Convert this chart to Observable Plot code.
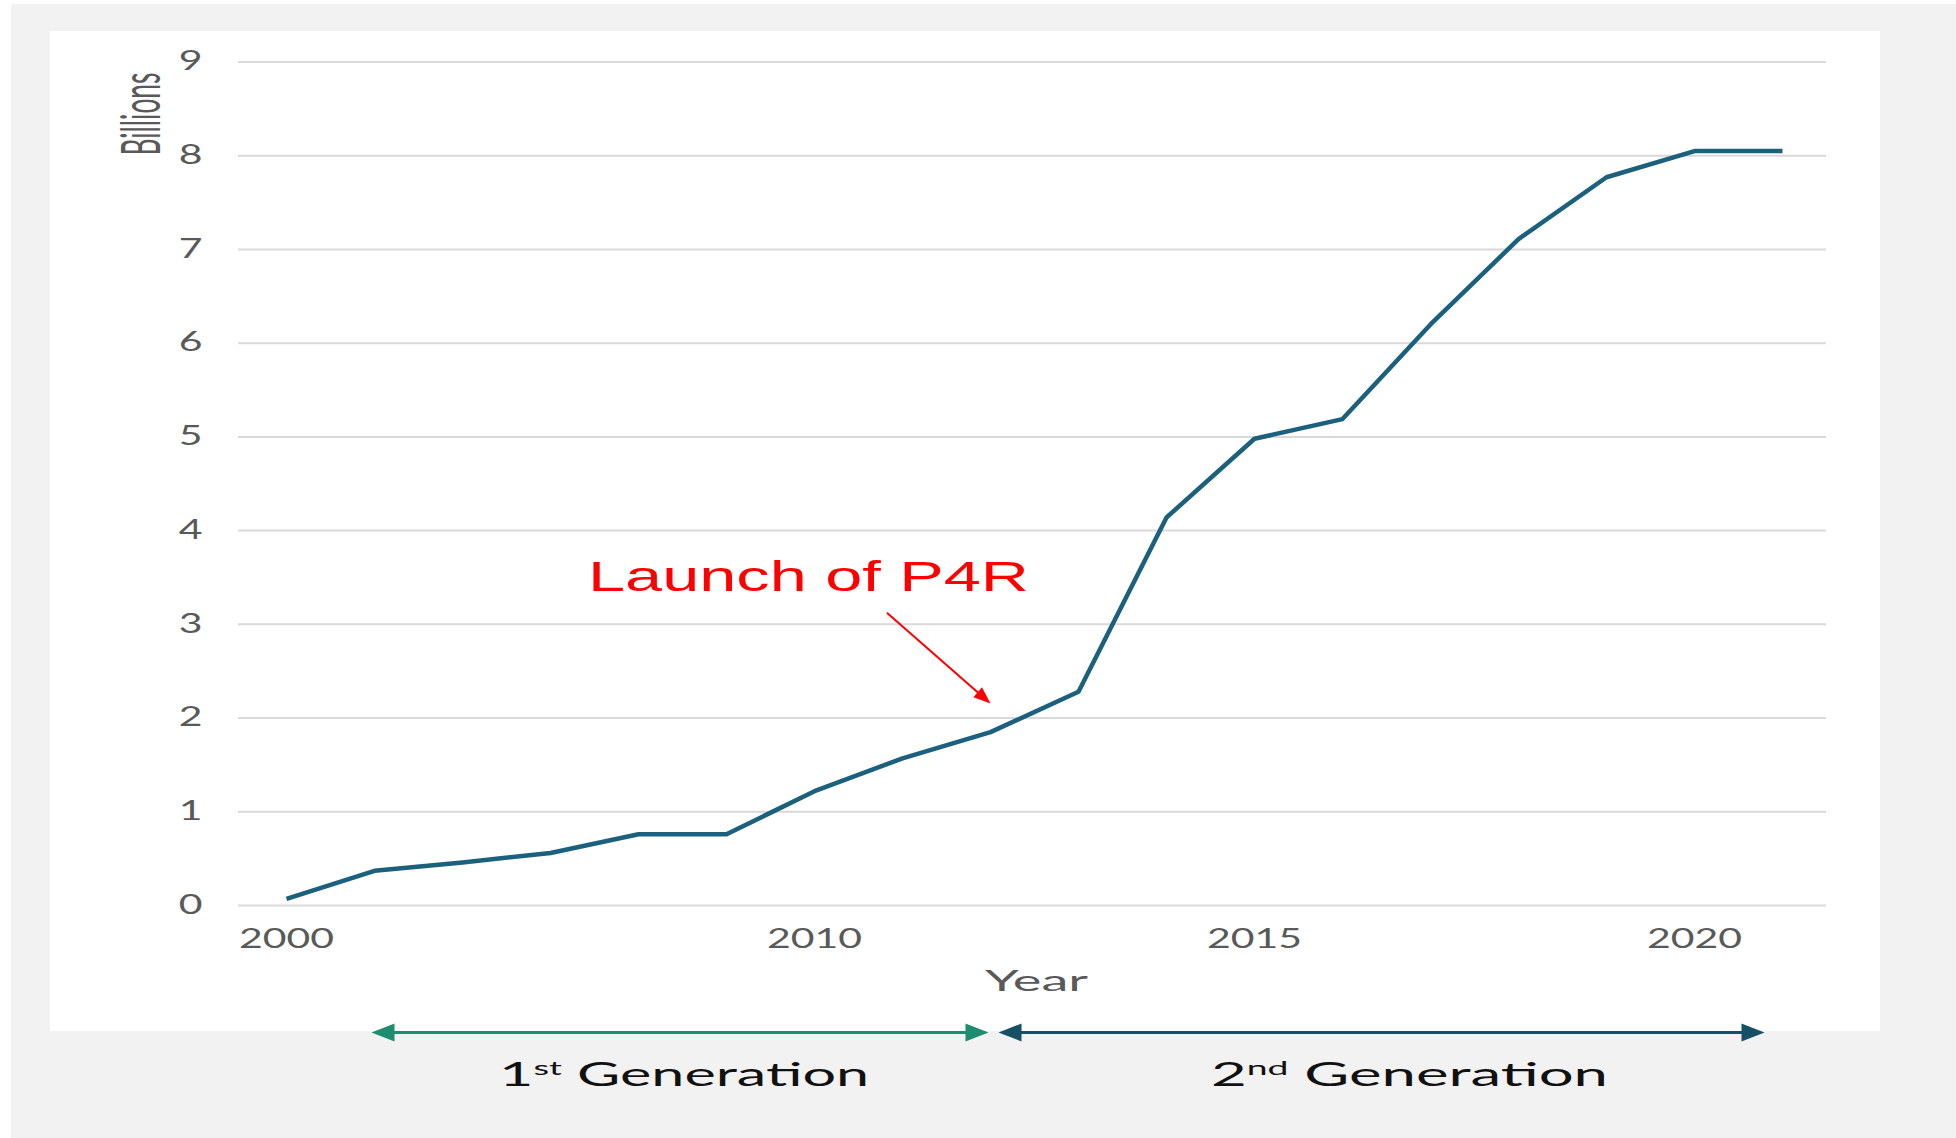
<!DOCTYPE html>
<html>
<head>
<meta charset="utf-8">
<script src="https://cdn.jsdelivr.net/npm/d3@7"></script>
<script src="https://cdn.jsdelivr.net/npm/@observablehq/plot@0.6"></script>
<style>
  html, body { margin: 0; padding: 0; background: #ffffff; }
  #page { position: relative; width: 1956px; height: 1138px; overflow: hidden; background: #ffffff; }
  #bg { position: absolute; left: 11px; top: 4px; right: 0; bottom: 0; background: #f2f2f2; }
  #panel { position: absolute; left: 50px; top: 31px; width: 1830px; height: 1000px; background: #ffffff; }
  #chart { position: absolute; left: 0; top: 0; }
</style>
</head>
<body>
<div id="page"><div id="bg"></div><div id="panel"></div><div id="chart"></div></div>
<script>
// ---------------- data ----------------
const years = ["2000", "2002", "2004", "2006", "2008", "2009", "2010", "2011", "2012",
               "2013", "2014", "2015", "2016", "2017", "2018", "2019", "2020", "2021"];
const billions = [0.07, 0.37, 0.46, 0.56, 0.76, 0.76, 1.22, 1.57, 1.85,
                  2.28, 4.14, 4.98, 5.19, 6.2, 7.11, 7.77, 8.05, 8.05];
const xTickLabels = ["2000", "2010", "2015", "2020"];
const yTicks = [0, 1, 2, 3, 4, 5, 6, 7, 8, 9];
const yLabel = "Billions";
const xLabel = "Year";
const generations = [
  {label: "1st Generation", start: "2002", end: "2012"},
  {label: "2nd Generation", start: "2012", end: "2021"}
];
const launchNote = {text: "Launch of P4R", year: "2010", value: 3.354};
const launchArrow = {fromYear: "2010", fromValue: 3.80, toYear: "2012", toValue: 2.156};

// ---------------- styles / layout ----------------
const lineColor = "#1b607c";
const genColors = ["#1e8c6e", "#155064"];
const gridColor = "#d9d9d9";
const labelGray = "#595959";
const genY = -1.355;

const table = years.map((year, i) => ({year, value: billions[i]}));

function head(theta, len, wid) {
  return {
    draw(ctx) {
      const c = Math.cos(theta), s = Math.sin(theta);
      const bx = -len * c, by = -len * s;
      const px = -s * wid / 2, py = c * wid / 2;
      ctx.moveTo(0, 0);
      ctx.lineTo(bx + px, by + py);
      ctx.lineTo(bx - px, by - py);
      ctx.closePath();
    }
  };
}
const headRight = head(0, 23, 18);
const headLeft = head(Math.PI, 23, 18);
const headRed = head(Math.atan2(90, 103), 17, 13);

const plot = Plot.plot({
  width: 1956,
  height: 1138,
  marginLeft: 238,
  marginRight: 130,
  marginTop: 61.5,
  marginBottom: 233,
  style: {background: "transparent", fontFamily: "Lato, 'Open Sans', sans-serif", fontSize: "26px", color: labelGray, overflow: "visible"},
  x: {type: "point", domain: years, padding: 0, insetLeft: 45, insetRight: 41},
  y: {domain: [0, 9]},
  marks: [
    Plot.ruleY(yTicks, {stroke: gridColor, strokeWidth: 2}),
    Plot.axisY({ticks: yTicks, tickSize: 0, tickPadding: 36, label: null, fontSize: 26, fill: labelGray}),
    Plot.axisX({ticks: xTickLabels, tickSize: 0, tickPadding: 24, label: null, fontSize: 26, fill: labelGray}),
    Plot.line(table, {x: "year", y: "value", stroke: lineColor, strokeWidth: 4.5, strokeLinejoin: "round", strokeLinecap: "butt"}),
    // annotation
    Plot.text([launchNote], {x: "year", y: "value", text: "text", dx: -6, lineAnchor: "bottom", fontSize: 42,
      fontFamily: "'Liberation Sans', Arial, sans-serif", fill: "#ff0000"}),
    Plot.arrow([launchArrow], {x1: "fromYear", y1: "fromValue", x2: "toYear", y2: "toValue", stroke: "#ff0000",
      strokeWidth: 2, headLength: 0, insetStart: 97, insetEnd: 8}),
    Plot.dot([launchArrow], {x: "toYear", y: "toValue", symbol: headRed, fill: "#ff0000", stroke: null, r: 5}),
    // axis titles
    Plot.text([yLabel], {text: d => d, frameAnchor: "top-left", rotate: -90, dx: -96, dy: 52, lineAnchor: "middle",
      textAnchor: "middle", fontSize: 27, fill: labelGray}),
    Plot.text([xLabel], {text: d => d, frameAnchor: "bottom", dx: 4, dy: 85, lineAnchor: "bottom",
      fontSize: 29, fill: labelGray}),
    // generations
    Plot.arrow([generations[0]], {x1: "start", x2: "end", y1: genY, y2: genY, stroke: genColors[0], strokeWidth: 3,
      headLength: 0, insetStart: 4, insetEnd: 6}),
    Plot.arrow([generations[1]], {x1: "start", x2: "end", y1: genY, y2: genY, stroke: genColors[1], strokeWidth: 3,
      headLength: 0, insetStart: 14, insetEnd: 24}),
    Plot.dot([generations[0]], {x: "start", y: genY, symbol: headLeft, fill: genColors[0], stroke: null, dx: -3}),
    Plot.dot([generations[0]], {x: "end", y: genY, symbol: headRight, fill: genColors[0], stroke: null, dx: -2}),
    Plot.dot([generations[1]], {x: "start", y: genY, symbol: headLeft, fill: genColors[1], stroke: null, dx: 8}),
    Plot.dot([generations[1]], {x: "end", y: genY, symbol: headRight, fill: genColors[1], stroke: null, dx: -18}),
    Plot.text([generations[0]], {x: () => "2008", y: genY, text: "label", dx: 45.6, dy: 54, lineAnchor: "bottom",
      fontSize: 33, fill: "#111111"}),
    Plot.text([generations[1]], {x: () => "2017", y: genY, text: "label", dx: -21, dy: 54, lineAnchor: "bottom",
      fontSize: 33, fill: "#111111"})
  ]
});

document.getElementById("chart").appendChild(plot);

// ---------------- text fitting (the original's type is wide and stretched) ----------------
function fit(el, target) {
  el.setAttribute("textLength", target);
  el.setAttribute("lengthAdjust", "spacingAndGlyphs");
}
const texts = Array.from(plot.querySelectorAll("text"));
const xt = Array.from(plot.querySelectorAll('[aria-label^="x-axis"] text'));
const yt = Array.from(plot.querySelectorAll('[aria-label^="y-axis"] text'));
let factor = 1.5;
if (xt.length) {
  const w = xt[0].getComputedTextLength();
  if (w > 0) factor = 95 / w;
}
xt.forEach(t => fit(t, t.getComputedTextLength() * factor));
yt.forEach(t => fit(t, t.getComputedTextLength() * factor));

const ns = "http://www.w3.org/2000/svg";
texts.forEach(t => {
  const s = t.textContent;
  if (s === launchNote.text) fit(t, 441);
  else if (s === yLabel) {
    fit(t, 83);
    // glyphs are wide across the reading direction in the original
    const tr = t.getAttribute("transform") || "";
    t.setAttribute("transform", tr + " scale(1,2)");
  }
  else if (s === xLabel) fit(t, 103);
  else {
    const m = /^(\d)(st|nd|rd|th) (.*)$/.exec(s);
    if (m) {
      t.textContent = "";
      const a = document.createElementNS(ns, "tspan"); a.textContent = m[1];
      const b = document.createElementNS(ns, "tspan"); b.textContent = m[2];
      b.setAttribute("font-size", "20"); b.setAttribute("dy", "-11");
      const c = document.createElementNS(ns, "tspan"); c.textContent = " " + m[3];
      c.setAttribute("dy", "11");
      t.appendChild(a); t.appendChild(b); t.appendChild(c);
      fit(t, m[2] === "st" ? 370 : 397);
    }
  }
});
</script>
</body>
</html>
